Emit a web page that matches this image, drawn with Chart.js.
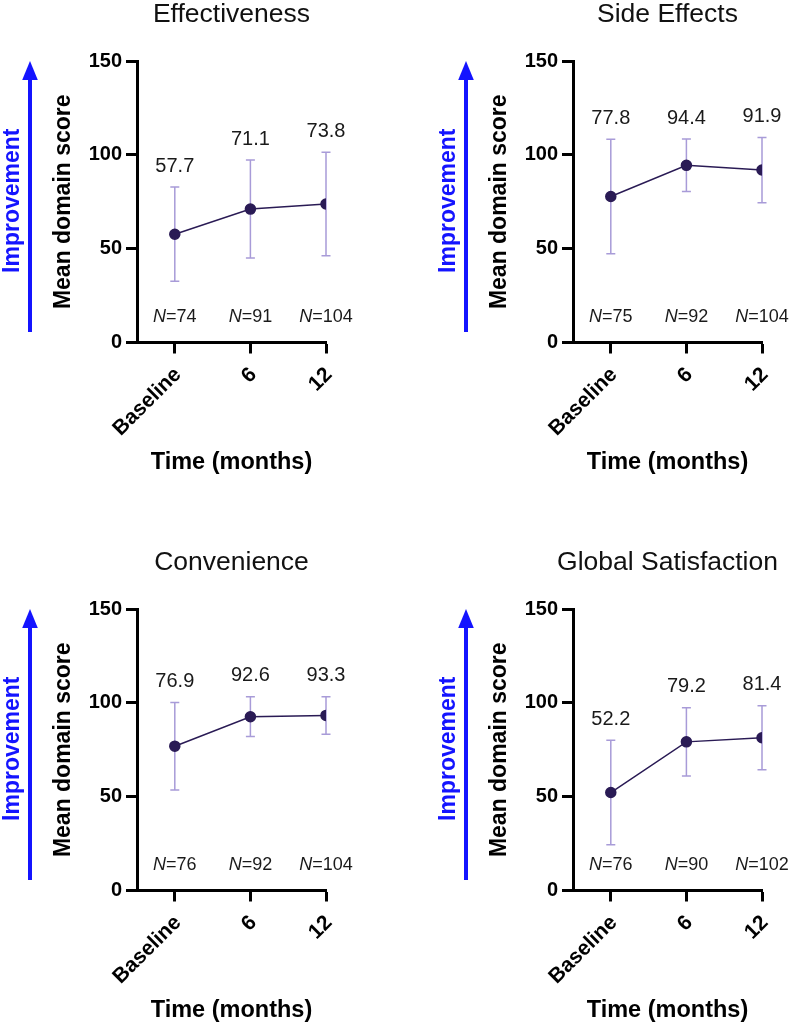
<!DOCTYPE html>
<html>
<head>
<meta charset="utf-8">
<title>Mean domain scores over time</title>
<script src="https://cdn.jsdelivr.net/npm/chart.js@4.4.0/dist/chart.umd.min.js"></script>
<style>
  html, body { margin:0; padding:0; background:#fff; }
  #wrap { position:relative; width:797px; height:1028px; overflow:hidden; }
  canvas { position:absolute; }
</style>
</head>
<body>
<div id="wrap">
  <canvas id="c0" width="361" height="480" style="left:0;top:0"></canvas>
  <canvas id="c1" width="361" height="480" style="left:436px;top:0"></canvas>
  <canvas id="c2" width="361" height="480" style="left:0;top:548px"></canvas>
  <canvas id="c3" width="361" height="480" style="left:436px;top:548px"></canvas>
</div>
<script>
// Datos
const timepoints = ['Baseline', '6', '12'];
const yTicks = [0, 50, 100, 150];
const panelTitles = ['Effectiveness', 'Side Effects', 'Convenience', 'Global Satisfaction'];

const effMean = [57.7, 71.1, 73.8];
const effSD = [25.1, 26.1, 27.6];
const effN = [74, 91, 104];

const sideMean = [77.8, 94.4, 91.9];
const sideSD = [30.5, 14.0, 17.4];
const sideN = [75, 92, 104];

const convMean = [76.9, 92.6, 93.3];
const convSD = [23.3, 10.6, 10.0];
const convN = [76, 92, 104];

const globMean = [52.2, 79.2, 81.4];
const globSD = [27.8, 18.2, 17.0];
const globN = [76, 90, 102];

const FONT = "'Liberation Sans', Arial, Helvetica, sans-serif";
Chart.defaults.font.family = FONT;
Chart.defaults.color = '#000';

const LINE_COLOR = '#2a1b55';
const ERR_COLOR = '#a89bd8';

// title, error bars, value labels, N labels, arrow
function panelExtras(title, mean, sd, n) {
  return {
    id: 'panelExtras',
    beforeDatasetsDraw(chart) {
      const { ctx, scales: { x, y } } = chart;
      ctx.save();
      ctx.strokeStyle = ERR_COLOR;
      ctx.lineWidth = 1.5;
      mean.forEach((m, i) => {
        const px = x.getPixelForValue(i);
        const top = y.getPixelForValue(m + sd[i]);
        const bot = y.getPixelForValue(m - sd[i]);
        ctx.beginPath();
        ctx.moveTo(px, top); ctx.lineTo(px, bot);
        ctx.moveTo(px - 4.5, top); ctx.lineTo(px + 4.5, top);
        ctx.moveTo(px - 4.5, bot); ctx.lineTo(px + 4.5, bot);
        ctx.stroke();
      });
      ctx.restore();
    },
    afterDraw(chart) {
      const { ctx, chartArea, scales: { x, y } } = chart;
      ctx.save();
      ctx.fillStyle = '#111';
      ctx.textBaseline = 'middle';
      ctx.textAlign = 'center';
      // panel title
      ctx.font = '26.5px ' + FONT;
      ctx.fillText(title, (chartArea.left + chartArea.right) / 2, 15);
      // mean labels
      ctx.fillStyle = '#1a1a1a';
      ctx.font = '20px ' + FONT;
      mean.forEach((m, i) => {
        ctx.fillText(m.toFixed(1), x.getPixelForValue(i), y.getPixelForValue(m + sd[i]) - 21);
      });
      // N labels
      const ny = y.getPixelForValue(13.5);
      n.forEach((v, i) => {
        const cx = x.getPixelForValue(i);
        ctx.font = 'italic 18px ' + FONT;
        const w1 = ctx.measureText('N').width;
        ctx.font = '18px ' + FONT;
        const rest = '=' + v;
        const w2 = ctx.measureText(rest).width;
        const sx = cx - (w1 + w2) / 2;
        ctx.textAlign = 'left';
        ctx.font = 'italic 18px ' + FONT;
        ctx.fillText('N', sx, ny);
        ctx.font = '18px ' + FONT;
        ctx.fillText(rest, sx + w1, ny);
      });
      // Improvement arrow
      const ax = 30;
      const tip = chartArea.top;
      const base = chartArea.bottom - 10.5;
      ctx.strokeStyle = '#1414ff';
      ctx.fillStyle = '#1414ff';
      ctx.lineWidth = 4;
      ctx.beginPath();
      ctx.moveTo(ax, base);
      ctx.lineTo(ax, tip + 15);
      ctx.stroke();
      ctx.beginPath();
      ctx.moveTo(ax, tip);
      ctx.lineTo(ax - 7.8, tip + 19);
      ctx.lineTo(ax + 7.8, tip + 19);
      ctx.closePath();
      ctx.fill();
      ctx.translate(13, (chartArea.top + chartArea.bottom) / 2 - 1);
      ctx.rotate(-Math.PI / 2);
      ctx.textAlign = 'center';
      ctx.font = 'bold 23px ' + FONT;
      ctx.fillText('Improvement', 0, 0);
      ctx.restore();
    }
  };
}

function makePanel(id, title, mean, sd, n) {
  return new Chart(document.getElementById(id), {
    type: 'line',
    data: {
      datasets: [{
        data: mean.map((v, i) => ({ x: i, y: v })),
        borderColor: LINE_COLOR,
        backgroundColor: LINE_COLOR,
        borderWidth: 1.5,
        pointRadius: 5,
        pointBackgroundColor: LINE_COLOR,
        pointBorderColor: LINE_COLOR,
        tension: 0
      }]
    },
    options: {
      responsive: false,
      animation: false,
      devicePixelRatio: 1,
      layout: { padding: { left: 0, right: 35, top: 61, bottom: 0 } },
      plugins: {
        legend: { display: false },
        tooltip: { enabled: false },
        title: { display: false }
      },
      scales: {
        x: {
          type: 'linear', min: -0.5, max: 2,
          afterBuildTicks: s => { s.ticks = timepoints.map((_, i) => ({ value: i })); },
          afterFit: s => { s.height = 137.5; },
          ticks: {
            callback: v => timepoints[v],
            minRotation: 45, maxRotation: 45, labelOffset: 3,
            color: '#000', font: { size: 21, weight: 'bold' }, padding: 9
          },
          grid: { drawOnChartArea: false, drawTicks: true, tickLength: 11, tickWidth: 3, tickColor: '#000' },
          border: { display: true, color: '#000', width: 3 },
          title: {
            display: true, text: 'Time (months)', color: '#000',
            font: { size: 23.5, weight: 'bold' }, padding: { top: 0, bottom: 3 }
          }
        },
        y: {
          min: 0, max: 150,
          afterBuildTicks: s => { s.ticks = yTicks.map(v => ({ value: v })); },
          afterFit: s => { s.width = 137; },
          ticks: { color: '#000', font: { size: 20, weight: 'bold' }, padding: 4 },
          grid: { drawOnChartArea: false, drawTicks: true, tickLength: 11, tickWidth: 3, tickColor: '#000' },
          border: { display: true, color: '#000', width: 3 },
          title: {
            display: true, text: 'Mean domain score', color: '#000',
            font: { size: 23, weight: 'bold' }, padding: { top: 50, bottom: 0 }
          }
        }
      }
    },
    plugins: [panelExtras(title, mean, sd, n)]
  });
}

makePanel('c0', panelTitles[0], effMean, effSD, effN);
makePanel('c1', panelTitles[1], sideMean, sideSD, sideN);
makePanel('c2', panelTitles[2], convMean, convSD, convN);
makePanel('c3', panelTitles[3], globMean, globSD, globN);
</script>
</body>
</html>
